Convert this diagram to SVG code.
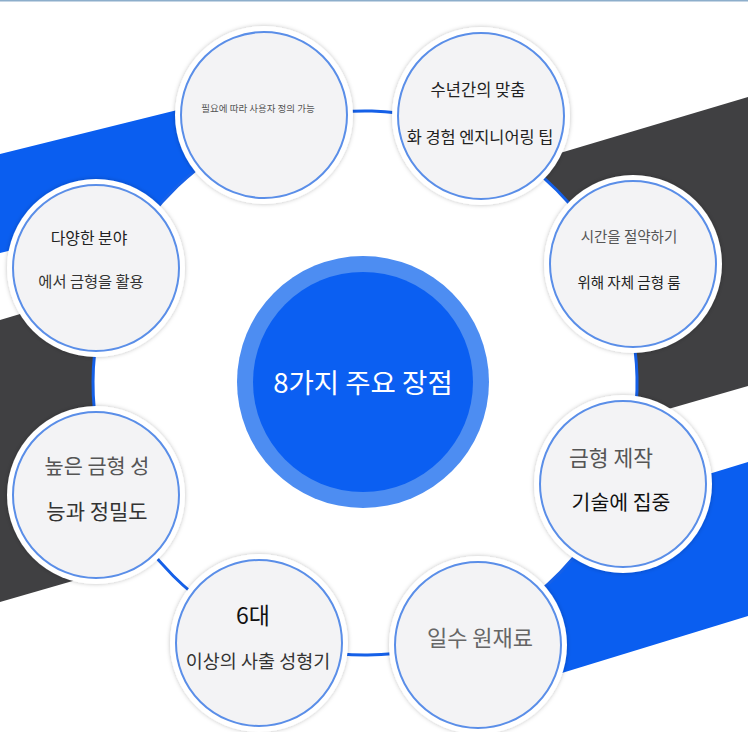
<svg xmlns="http://www.w3.org/2000/svg" width="748" height="732" viewBox="0 0 748 732">
<defs>
<style>
.t{font-family:"Noto Sans CJK KR","Noto Sans",sans-serif;text-anchor:middle}
.g{fill:#555}
.d{fill:#222}
.rim{fill:#fff;filter:url(#sh)}
.face{fill:#f3f3f5;stroke:#5a8ee8;stroke-width:2}
.ring{fill:none;stroke:#1560e8;stroke-width:3}
</style>
<filter id="sh" x="-20%" y="-20%" width="140%" height="140%">
<feDropShadow dx="0" dy="0" stdDeviation="2" flood-color="#000" flood-opacity="0.25"/>
</filter>
</defs>
<rect width="748" height="732" fill="#fff"/>
<rect x="0" y="0" width="748" height="1.5" fill="#8daecb"/>
<g id="bands">
<polygon points="0,154 290,82 290,183 0,253" fill="#0a5ef0"/>
<polygon points="0,320 748,97 748,386 0,602" fill="#404042"/>
<polygon points="470,547 748,462 748,616 470,701" fill="#0a5ef0"/>
</g>
<circle cx="365" cy="383" r="272" fill="#fff"/>
<g id="connectors">
<path class="ring" d="M269.3,128.4 A272,272 0 0 1 473.4,133.5"/>
<path class="ring" d="M473.4,133.5 A272,272 0 0 1 613.7,272.8"/>
<path class="ring" d="M613.7,272.8 A272,272 0 0 1 618.3,482.3"/>
<path class="ring" d="M618.3,482.3 A272,272 0 0 1 472.6,632.8"/>
<path class="ring" d="M472.6,632.8 A272,272 0 0 1 262.2,634.8"/>
<path class="ring" d="M262.2,634.8 A272,272 0 0 1 113.9,487.5"/>
<path class="ring" d="M113.9,487.5 A272,272 0 0 1 115.0,275.9"/>
<path class="ring" d="M115.0,275.9 A272,272 0 0 1 269.3,128.4"/>
</g>
<g id="center">
<circle cx="363" cy="382" r="126" fill="#4d8df2"/>
<circle cx="363" cy="382" r="110" fill="#0b5ff2"/>
<text class="t" x="363" y="393" font-size="27.5" fill="#fff">8가지 주요 장점</text>
</g>
<g id="n1">
<circle class="rim" cx="264" cy="115" r="89"/>
<circle class="face" cx="264" cy="115" r="83"/>
<text class="t g" x="258" y="112" font-size="9.5">필요에 따라 사용자 정의 가능</text>
</g>
<g id="n2">
<circle class="rim" cx="481" cy="116" r="89"/>
<circle class="face" cx="481" cy="116" r="83"/>
<text class="t d" x="478" y="96" font-size="16.5">수년간의 맞춤</text>
<text class="t d" x="480" y="143" font-size="16.4">화 경험 엔지니어링 팁</text>
</g>
<g id="n3">
<circle class="rim" cx="633" cy="264" r="89"/>
<circle class="face" cx="633" cy="264" r="83"/>
<text class="t g" x="629" y="242" font-size="14.5">시간을 절약하기</text>
<text class="t d" x="629" y="288" font-size="14.5">위해 자체 금형 룸</text>
</g>
<g id="n4">
<circle class="rim" cx="623" cy="484" r="89"/>
<circle class="face" cx="623" cy="484" r="83"/>
<text class="t g" x="611" y="466" font-size="21.5">금형 제작</text>
<text class="t" x="621" y="510" font-size="20.5" fill="#111">기술에 집중</text>
</g>
<g id="n5">
<circle class="rim" cx="478" cy="645" r="89"/>
<circle class="face" cx="478" cy="645" r="83"/>
<text class="t" x="480" y="646" font-size="22" fill="#666">일수 원재료</text>
</g>
<g id="n6">
<circle class="rim" cx="259" cy="643" r="89"/>
<circle class="face" cx="259" cy="643" r="83"/>
<text class="t" x="253" y="624" font-size="23" fill="#111">6대</text>
<text class="t" x="258" y="668" font-size="18.5" fill="#333">이상의 사출 성형기</text>
</g>
<g id="n7">
<circle class="rim" cx="96" cy="495" r="89"/>
<circle class="face" cx="96" cy="495" r="83"/>
<text class="t g" x="97" y="474" font-size="20.8">높은 금형 성</text>
<text class="t" x="97" y="519" font-size="21" fill="#333">능과 정밀도</text>
</g>
<g id="n8">
<circle class="rim" cx="96" cy="268" r="89"/>
<circle class="face" cx="96" cy="268" r="83"/>
<text class="t d" x="89" y="244" font-size="15.9">다양한 분야</text>
<text class="t" x="91" y="287" font-size="15.3" fill="#333">에서 금형을 활용</text>
</g>
</svg>
